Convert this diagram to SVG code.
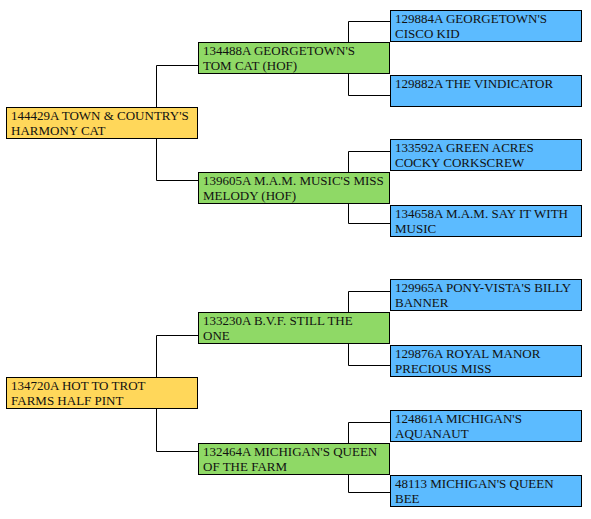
<svg xmlns="http://www.w3.org/2000/svg" width="591" height="519" viewBox="0 0 591 519">
<style>
.y,.g,.b{stroke:#000;stroke-width:1}
.y{fill:#FFD75A}
.g{fill:#8FD966}
.b{fill:#5CBBFF}
text{font-family:"Liberation Serif","Times New Roman",serif;font-size:13px;fill:#111}
#connectors path{fill:none;stroke:#000;stroke-width:1}
</style>
<rect width="591" height="519" fill="#fff"/>
<g id="connectors">
<path d="M156.5 108V65.5H199M156.5 138V180.5H199"/>
<path d="M348.5 43V21.5H390M348.5 74V95.5H390"/>
<path d="M348.5 173V151.5H390M348.5 204V223.5H390"/>
<path d="M156.5 377V335.5H199M156.5 409V451.5H199"/>
<path d="M348.5 312V291.5H390M348.5 344V365.5H390"/>
<path d="M348.5 443V422.5H390M348.5 474V492.5H390"/>
</g>
<g id="n144429A"><rect class="y" x="6.5" y="107.5" width="191" height="31"/><text x="11" y="120">144429A TOWN &amp; COUNTRY'S</text><text x="11" y="135">HARMONY CAT</text></g>
<g id="n134488A"><rect class="g" x="198.5" y="42.5" width="191" height="31"/><text x="203" y="55">134488A GEORGETOWN'S</text><text x="203" y="70">TOM CAT (HOF)</text></g>
<g id="n139605A"><rect class="g" x="198.5" y="172.5" width="191" height="31"/><text x="203" y="185">139605A M.A.M. MUSIC'S MISS</text><text x="203" y="200">MELODY (HOF)</text></g>
<g id="n129884A"><rect class="b" x="390.5" y="10.5" width="191" height="31"/><text x="395" y="23">129884A GEORGETOWN'S</text><text x="395" y="38">CISCO KID</text></g>
<g id="n129882A"><rect class="b" x="390.5" y="75.5" width="191" height="31"/><text x="395" y="88">129882A THE VINDICATOR</text></g>
<g id="n133592A"><rect class="b" x="390.5" y="139.5" width="191" height="31"/><text x="395" y="152">133592A GREEN ACRES</text><text x="395" y="167">COCKY CORKSCREW</text></g>
<g id="n134658A"><rect class="b" x="390.5" y="205.5" width="191" height="31"/><text x="395" y="218">134658A M.A.M. SAY IT WITH</text><text x="395" y="233">MUSIC</text></g>
<g id="n134720A"><rect class="y" x="6.5" y="377.5" width="191" height="31"/><text x="11" y="390">134720A HOT TO TROT</text><text x="11" y="405">FARMS HALF PINT</text></g>
<g id="n133230A"><rect class="g" x="198.5" y="312.5" width="191" height="31"/><text x="203" y="325">133230A B.V.F. STILL THE</text><text x="203" y="340">ONE</text></g>
<g id="n132464A"><rect class="g" x="198.5" y="443.5" width="191" height="31"/><text x="203" y="456">132464A MICHIGAN'S QUEEN</text><text x="203" y="471">OF THE FARM</text></g>
<g id="n129965A"><rect class="b" x="390.5" y="279.5" width="191" height="31"/><text x="395" y="292">129965A PONY-VISTA'S BILLY</text><text x="395" y="307">BANNER</text></g>
<g id="n129876A"><rect class="b" x="390.5" y="345.5" width="191" height="31"/><text x="395" y="358">129876A ROYAL MANOR</text><text x="395" y="373">PRECIOUS MISS</text></g>
<g id="n124861A"><rect class="b" x="390.5" y="410.5" width="191" height="31"/><text x="395" y="423">124861A MICHIGAN'S</text><text x="395" y="438">AQUANAUT</text></g>
<g id="n48113"><rect class="b" x="390.5" y="475.5" width="191" height="31"/><text x="395" y="488">48113 MICHIGAN'S QUEEN</text><text x="395" y="503">BEE</text></g>
</svg>
